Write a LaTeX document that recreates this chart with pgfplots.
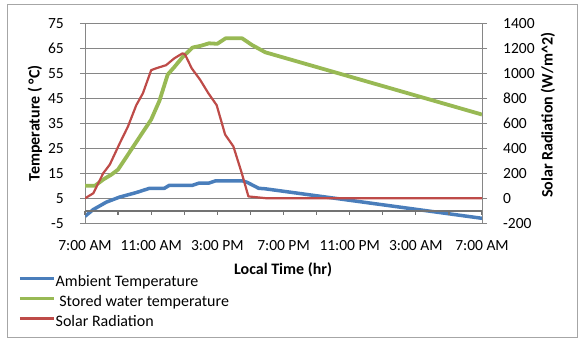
\documentclass[border=0pt]{standalone}
\usepackage{fontspec}
\setmainfont{Carlito}
\usepackage{pgfplots}
\pgfplotsset{compat=1.18}
\definecolor{ablue}{HTML}{4A7EBB}
\definecolor{agreen}{HTML}{98B954}
\definecolor{ared}{HTML}{BE4B48}
\definecolor{gridc}{HTML}{868686}
\definecolor{framec}{HTML}{A6A6A6}

\newcommand{\tickfont}{\fontsize{15.5bp}{18bp}\selectfont}
\newcommand{\labfont}{\fontsize{16bp}{19bp}\selectfont\bfseries}

\pgfplotstableread{
h t
0 -2.2
0.5 0.5
1.3 3.5
2.1 5.5
3.1 7.3
3.9 9
4.8 9
5.1 10.2
6.5 10.2
6.9 11.1
7.5 11.1
7.9 12
9.5 12
9.8 11.4
10.5 9
10.9 8.8
24 -3
}\ambient

\pgfplotstableread{
h t
0 10
0.6 10
1.1 12.5
1.6 14.5
2 16.5
2.5 21.5
3 26.5
3.5 31.5
4 36.5
4.5 44
5 54.5
5.4 57.5
5.9 61.5
6.5 65.3
7 66
7.5 67
8 66.8
8.5 69
9 69
9.5 69
10.1 66.3
10.9 63.4
24 38.5
}\stored

\pgfplotstableread{
h w
0 0
0.5 40
1.1 200
1.5 270
2.1 440
2.6 575
3.1 745
3.5 840
4 1025
4.3 1040
4.9 1065
5.4 1120
5.9 1160
6.05 1150
6.45 1040
6.95 950
7.46 840
7.96 745
8.47 510
8.97 415
9.48 200
9.88 15
10.4 8
11 0
24 0
}\solar

\pgfplotsset{
  common/.style={
    anchor=south west,
    scale only axis, width=397bp,
    xmin=0, xmax=24,
    axis line style={gridc, line width=0.8bp},
    tick style={gridc, line width=0.8bp},
    major tick length=5bp,
    tick label style={font=\tickfont, inner sep=0pt},
    /pgf/number format/assume math mode=true,
    /pgf/number format/1000 sep={},
    ticklabel shift=16bp,
  }
}

\begin{document}
\begin{tikzpicture}
\path[use as bounding box] (-85bp,-117.7bp) rectangle (497bp,223.3bp);
\draw[framec, line width=1bp] (-77bp,-113.7bp) rectangle (492bp,218.3bp);

\begin{axis}[common, at={(0,0)}, height=200bp,
  ymin=-5, ymax=75, ytick={-5,5,...,75},
  axis y line*=left, axis x line=none,
  ytick align=outside,
  ymajorgrids, grid style={gridc, line width=0.8bp},
  every axis y label/.style={at={(axis description cs:-0.126,0.5)}, rotate=90, anchor=center, font=\labfont},
  ylabel={Temperature ( °C)},
  legend style={at={(-0.169,-0.2485)}, anchor=north west, draw=none, fill=none,
    inner sep=0pt, outer sep=0pt, row sep=0pt,
    nodes={inner sep=0pt, text height=13bp, text depth=7bp, font=\fontsize{16bp}{19bp}\selectfont}},
  legend cell align=left,
  legend image code/.code={\draw[#1] (0bp,4.5bp) -- (34bp,4.5bp);},
  /tikz/every even column/.append style={column sep=3bp},
]
\addplot[ablue, line width=3.5bp, line join=round] table[x=h, y=t] {\ambient};
\addlegendentry{Ambient Temperature}
\addplot[agreen, line width=3.8bp, line join=round] table[x=h, y=t] {\stored};
\addlegendentry{\ Stored water temperature}
\addlegendimage{ared, line width=2.2bp}
\addlegendentry{Solar Radiation}
\end{axis}

% category axis line crossing at 0 degrees, ticks hanging below
\begin{axis}[common, at={(0bp,12.5bp)}, height=187.5bp,
  ymin=0, ymax=1, axis y line=none, axis x line*=bottom,
  x axis line style={draw=black!55, line width=1.5bp},
  xtick={0,2,...,24}, xticklabels={}, xtick align=outside,
  xtick style={draw=black!55, line width=1.2bp}, major tick length=4bp,
]
\addplot[draw=none] coordinates {(0,0.5)};
\end{axis}

\begin{axis}[common, at={(0,0)}, height=200bp,
  ymin=-200, ymax=1400, ytick={-200,0,...,1400},
  axis y line*=right, axis x line*=bottom,
  x axis line style={draw=none}, xtick style={draw=none},
  ytick align=outside,
  xtick={0,4,...,24},
  xticklabels={7:00 AM, 11:00 AM, 3:00 PM, 7:00 PM, 11:00 PM, 3:00 AM, 7:00 AM},
  xticklabel style={anchor=center}, xticklabel shift=22bp,
  every axis y label/.style={at={(axis description cs:1.166,0.54)}, rotate=90, anchor=center, font=\labfont},
  every axis x label/.style={at={(axis description cs:0.499,-0.23)}, anchor=center, font=\labfont},
  ylabel={Solar Radiation (W/m\textasciicircum 2)},
  xlabel={Local Time (hr)},
]
\addplot[ared, line width=2.2bp, line join=round] table[x=h, y=w] {\solar};
\end{axis}
\end{tikzpicture}
\end{document}
